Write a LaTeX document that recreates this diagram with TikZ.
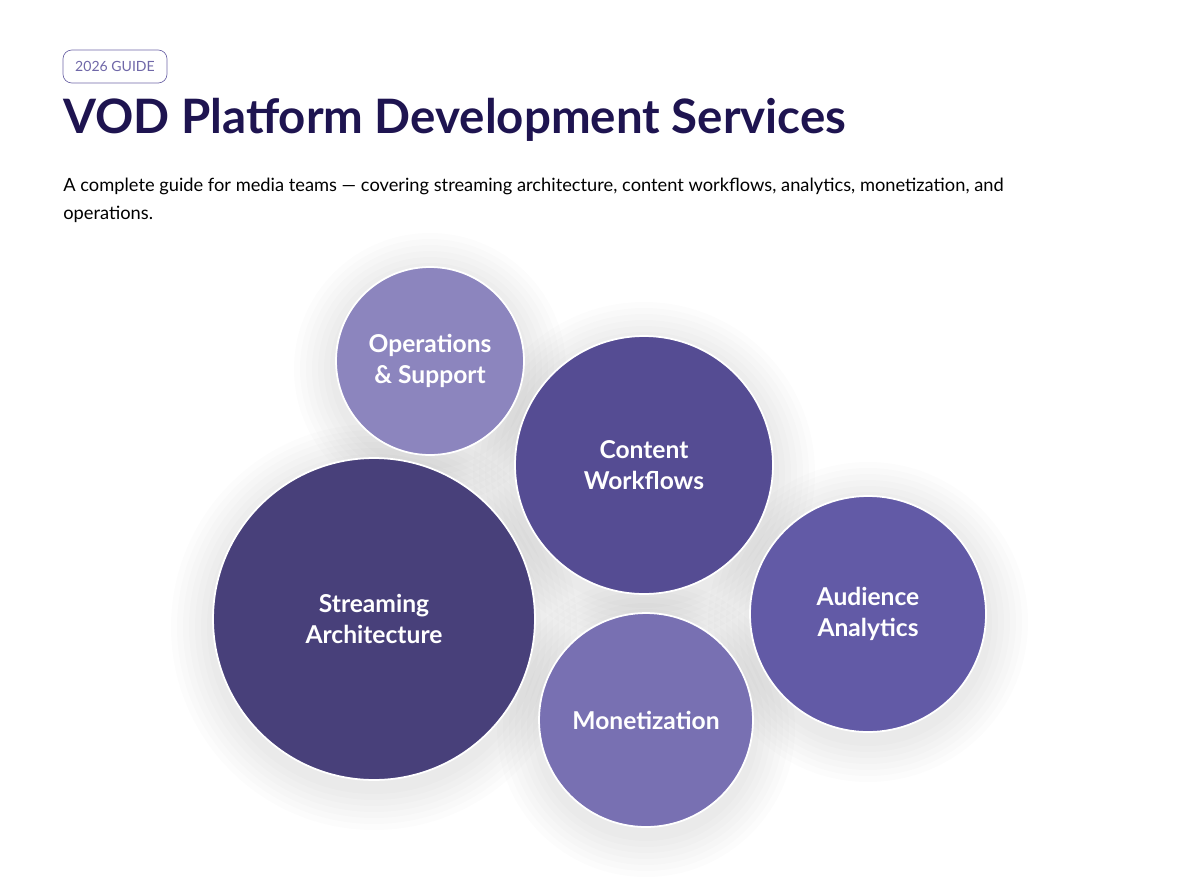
\documentclass[tikz,border=0pt]{standalone}
\usepackage{fontspec}
\setmainfont{Lato}
\usetikzlibrary{positioning}
\definecolor{titleink}{HTML}{1E1450}
\definecolor{badgeink}{HTML}{6F67A8}
\definecolor{opsfill}{HTML}{8C85BE}
\definecolor{contentfill}{HTML}{554C93}
\definecolor{streamfill}{HTML}{48407A}
\definecolor{audiencefill}{HTML}{625AA6}
\definecolor{monetfill}{HTML}{7870B2}
\tikzset{
  bubble/.style={circle, draw=white, line width=1pt, text=white, align=center,
    font=\fontsize{14}{17.5}\selectfont\bfseries, inner sep=0pt},
  halo/.style={fill=black, fill opacity=0.012, draw=none}
}
\begin{document}
\begin{tikzpicture}[x=0.02cm, y=-0.02cm]
  \useasboundingbox (0,0) rectangle (1200,893);
  % heading
  \node[draw=badgeink, rounded corners=5pt, text=badgeink, font=\fontsize{8}{10}\selectfont,
    minimum width=2.08cm, minimum height=0.66cm] (badge) at (115,66.5) {2026 GUIDE};
  \node[anchor=west, text=titleink, font=\fontsize{27}{32}\selectfont\bfseries, inner sep=0pt]
    (title) at (63,120) {VOD Platform Development Services};
  \node[anchor=north west, text=black, font=\fontsize{10.4}{16}\selectfont, inner sep=0pt,
    align=left] (subtitle) at (63,178)
    {A complete guide for media teams — covering streaming architecture, content workflows, analytics, monetization, and\\operations.};
  % soft shadows
  \foreach \cx/\cy/\r in {430/361/94, 644/465/129, 374/619/161, 868/614/118, 646/720/107}{
    \foreach \d in {6,12,...,42}{
      \fill[halo] (\cx,\cy+8) circle[radius=\r+\d];
    }
  }
  % bubbles
  \node[bubble, fill=opsfill, minimum size=3.76cm] (ops) at (430,361) {Operations\\\& Support};
  \node[bubble, fill=contentfill, minimum size=5.16cm] (content) at (644,465) {Content\\Workflows};
  \node[bubble, fill=streamfill, minimum size=6.44cm] (stream) at (374,619) {Streaming\\Architecture};
  \node[bubble, fill=audiencefill, minimum size=4.72cm] (audience) at (868,614) {Audience\\Analytics};
  \node[bubble, fill=monetfill, minimum size=4.28cm] (monet) at (646,720) {Monetization};
\end{tikzpicture}
\end{document}
